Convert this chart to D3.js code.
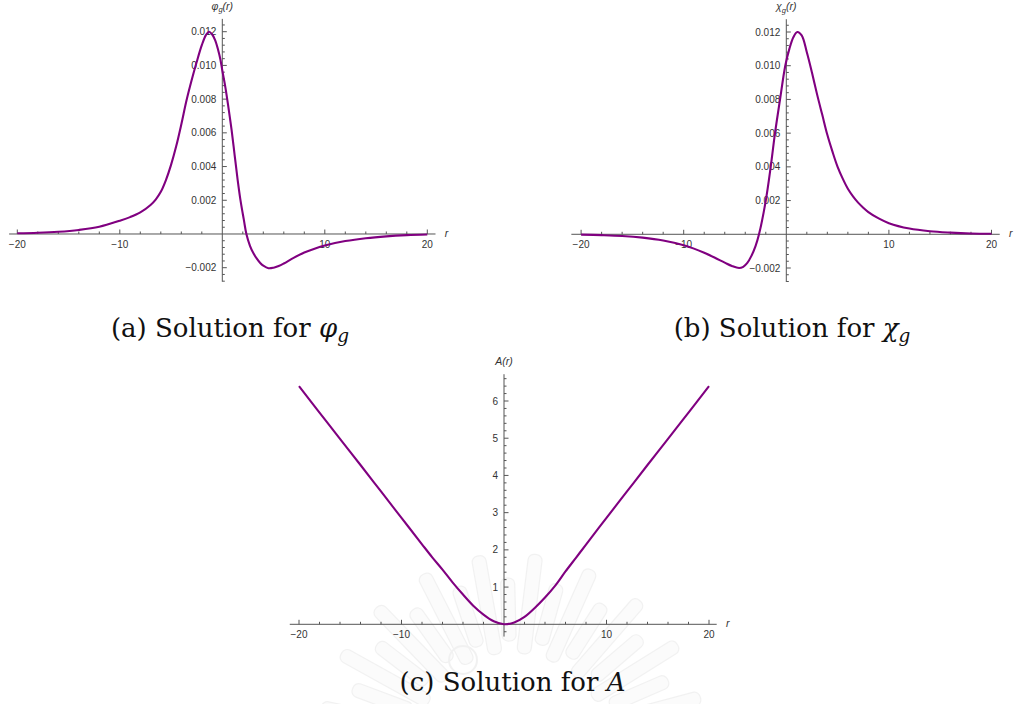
<!DOCTYPE html>
<html>
<head>
<meta charset="utf-8">
<script src="https://cdn.jsdelivr.net/npm/d3@7/dist/d3.min.js"></script>
<style>
  html, body { margin: 0; padding: 0; background: #fff; }
  svg { display: block; }
  .tick-label { font-family: "Liberation Sans", Arial, sans-serif; font-size: 10px; fill: #333; }
  .axis-title { font-family: "Liberation Sans", Arial, sans-serif; font-size: 10.5px; font-style: italic; fill: #333; }
</style>
</head>
<body>
<svg id="chart" width="1018" height="704"></svg>
<script>
// ---- φ_g(r) ----
const phiR = [-20, -18, -16, -14, -12, -10, -9, -8, -7, -6.5, -6, -5.5, -5, -4.5, -4, -3.5, -3, -2.5, -2, -1.6, -1.3, -1.0, -0.7, -0.4, -0.2, 0, 0.3, 0.6, 0.9, 1.2, 1.5, 1.8, 2.1, 2.35, 2.7, 3.0, 3.35, 3.7, 4.0, 4.5, 5.0, 5.5, 6.0, 7.0, 8.0, 9.0, 10, 12, 14, 16, 18, 20];
const phiV = [0.00004, 0.00007, 0.00013, 0.00024, 0.00043, 0.00079, 0.00100, 0.00128, 0.00172, 0.00204, 0.0025, 0.0032, 0.0041, 0.0052, 0.0065, 0.0079, 0.0091, 0.0102, 0.0112, 0.0118, 0.0120, 0.01185, 0.0115, 0.0109, 0.0104, 0.0097, 0.0087, 0.0075, 0.0062, 0.0047, 0.0032, 0.0019, 0.00085, 0.0, -0.0007, -0.0011, -0.00145, -0.00172, -0.00188, -0.00203, -0.00200, -0.00190, -0.00175, -0.00140, -0.00110, -0.00087, -0.00068, -0.00042, -0.00025, -0.00014, -0.00007, -0.00003];

// ---- χ_g(r) ----
const chiR = [-20, -18, -16, -14, -12, -10, -9, -8, -7, -6, -5.3, -4.6, -4.2, -3.8, -3.4, -3.0, -2.66, -2.0, -1.52, -1.1, -0.61, -0.1, 0.3, 0.7, 1.07, 1.5, 2.0, 2.5, 3.0, 3.5, 4.0, 4.5, 5.0, 5.5, 6.0, 6.5, 7.0, 7.5, 8.0, 9.0, 10, 12, 14, 16, 18, 20];
const chiV = [-0.00002, -0.00005, -0.0001, -0.0002, -0.00037, -0.00065, -0.00085, -0.0011, -0.00138, -0.00168, -0.00188, -0.00200, -0.00193, -0.0017, -0.00128, -0.0007, 0.0, 0.002, 0.004, 0.006, 0.008, 0.010, 0.0110, 0.0117, 0.0120, 0.0118, 0.0108, 0.0096, 0.0083, 0.0071, 0.0059, 0.0049, 0.0040, 0.0033, 0.0027, 0.00225, 0.00188, 0.00158, 0.00132, 0.00094, 0.00066, 0.00034, 0.00018, 0.0001, 0.00005, 0.00003];

// ---- A(r) ----
const aR = [-20, -18, -16, -14, -12, -10, -8, -7, -6, -5, -4, -3, -2, -1, 0, 1, 2, 3, 4, 5, 6, 7, 8, 10, 12, 14, 16, 18, 20];
const aV = [6.4, 5.69, 4.98, 4.28, 3.57, 2.86, 2.15, 1.8, 1.47, 1.12, 0.8, 0.5, 0.26, 0.08, 0.0, 0.05, 0.2, 0.44, 0.72, 1.04, 1.42, 1.78, 2.14, 2.86, 3.57, 4.28, 4.98, 5.69, 6.4];

// ---- tick definitions ----
const xMajorTicks = [-20, -10, 10, 20];
const xMinorStep = 2;
const psiMajorTicks = [-0.002, 0.002, 0.004, 0.006, 0.008, 0.010, 0.012];
const psiMinorStep = 0.0004;
const aMajorTicks = [1, 2, 3, 4, 5, 6];
const aMinorStep = 0.2;

const LINE_COLOR = "#800080";
const AXIS_COLOR = "#555";
const SERIF = '"DejaVu Serif", "Liberation Serif", serif';
const fmtMinus = s => s.replace("-", "\u2212");

const svg = d3.select("#chart");

// faint emblem behind the lower panel
(function drawEmblem() {
  const g = svg.append("g").attr("opacity", 0.3);
  const cx = 512, cy = 748;
  const angles = d3.range(192, 350, 8.5);
  angles.forEach((deg, i) => {
    const rIn = 95 + (i % 2) * 12;
    const rOut = 195 - (i % 2) * 25;
    g.append("rect")
      .attr("x", rIn).attr("y", -7)
      .attr("width", rOut - rIn).attr("height", 14)
      .attr("rx", 6)
      .attr("fill", "#f3f3f3")
      .attr("stroke", "#d4d4d4")
      .attr("stroke-width", 1.2)
      .attr("transform", `translate(${cx},${cy}) rotate(${deg})`);
  });
  g.append("circle").attr("cx", 463).attr("cy", 660).attr("r", 14)
    .attr("fill", "none").attr("stroke", "#d4d4d4").attr("stroke-width", 2);
})();

function panel(opts) {
  const { xRange, yDomain, yRange, xExtent, yExtent, rs, vs, yMajor, yMinorStep, yFmt, yTitle, yTitleSub } = opts;
  const x = d3.scaleLinear().domain([-20, 20]).range(xRange);
  const y = d3.scaleLinear().domain(yDomain).range(yRange);
  const g = svg.append("g");
  const x0 = x(0), y0 = y(0);

  // axis lines
  g.append("line")
    .attr("x1", x(xExtent[0])).attr("x2", x(xExtent[1]))
    .attr("y1", y0).attr("y2", y0)
    .attr("stroke", AXIS_COLOR).attr("stroke-width", 1);
  g.append("line")
    .attr("x1", x0).attr("x2", x0)
    .attr("y1", y(yExtent[0])).attr("y2", y(yExtent[1]))
    .attr("stroke", AXIS_COLOR).attr("stroke-width", 1);

  // x ticks (pointing up)
  const xTicks = d3.range(-20, 20.001, xMinorStep).filter(t => Math.abs(t) > 1e-9);
  g.selectAll(null).data(xTicks).join("line")
    .attr("x1", d => x(d)).attr("x2", d => x(d))
    .attr("y1", y0).attr("y2", d => y0 - (xMajorTicks.includes(d) ? 4.5 : 2.5))
    .attr("stroke", AXIS_COLOR).attr("stroke-width", 1);
  g.selectAll(null).data(xMajorTicks).join("text")
    .attr("class", "tick-label")
    .attr("x", d => x(d)).attr("y", y0 + 14)
    .attr("text-anchor", "middle")
    .text(d => fmtMinus(String(d)));

  // y ticks (pointing right)
  const lo = Math.ceil(yExtent[0] / yMinorStep - 1e-6), hi = Math.floor(yExtent[1] / yMinorStep + 1e-6);
  const yTicks = d3.range(lo, hi + 1).filter(k => k !== 0).map(k => k * yMinorStep);
  const isMajor = v => yMajor.some(m => Math.abs(m - v) < yMinorStep * 0.01);
  g.selectAll(null).data(yTicks).join("line")
    .attr("x1", x0).attr("x2", d => x0 + (isMajor(d) ? 4.5 : 2.5))
    .attr("y1", d => y(d)).attr("y2", d => y(d))
    .attr("stroke", AXIS_COLOR).attr("stroke-width", 1);
  g.selectAll(null).data(yMajor).join("text")
    .attr("class", "tick-label")
    .attr("x", x0 - 6).attr("y", d => y(d) + 3.6)
    .attr("text-anchor", "end")
    .text(d => fmtMinus(yFmt(d)));

  // axis titles
  const t = g.append("text").attr("class", "axis-title")
    .attr("x", x0).attr("y", y(yExtent[1]) - 9)
    .attr("text-anchor", "middle");
  t.append("tspan").text(yTitle);
  if (yTitleSub) t.append("tspan").attr("font-size", "7.5px").attr("dy", 2.5).text(yTitleSub);
  t.append("tspan").attr("dy", yTitleSub ? -2.5 : 0).text("(r)");
  g.append("text").attr("class", "axis-title")
    .attr("x", x(xExtent[1]) + 11).attr("y", y0 + 3)
    .attr("text-anchor", "middle")
    .text("r");

  // curve
  const pts = rs.map((r, i) => [r, vs[i]]);
  g.append("path")
    .datum(pts)
    .attr("fill", "none")
    .attr("stroke", LINE_COLOR)
    .attr("stroke-width", 2.1)
    .attr("stroke-linejoin", "round")
    .attr("d", d3.line().x(d => x(d[0])).y(d => y(d[1])).curve(d3.curveCatmullRom.alpha(0.5)));
}

panel({
  xRange: [17.3, 427.3], yDomain: [-0.002, 0.012], yRange: [267.7, 31.7],
  xExtent: [-20.8, 20.8], yExtent: [-0.00283, 0.01276],
  rs: phiR, vs: phiV, yMajor: psiMajorTicks, yMinorStep: psiMinorStep,
  yFmt: d3.format(".3f"), yTitle: "\u03C6", yTitleSub: "g"
});
panel({
  xRange: [581.1, 991.5], yDomain: [-0.002, 0.012], yRange: [268.0, 32.0],
  xExtent: [-20.95, 20.8], yExtent: [-0.00283, 0.01276],
  rs: chiR, vs: chiV, yMajor: psiMajorTicks, yMinorStep: psiMinorStep,
  yFmt: d3.format(".3f"), yTitle: "\u03C7", yTitleSub: "g"
});
panel({
  xRange: [299, 709], yDomain: [0, 6], yRange: [624.3, 401],
  xExtent: [-20.9, 20.75], yExtent: [-0.33, 6.72],
  rs: aR, vs: aV, yMajor: aMajorTicks, yMinorStep: aMinorStep,
  yFmt: d3.format("d"), yTitle: "A", yTitleSub: null
});

// captions
function caption(cx, baseline, tag, sym, sub) {
  const t = svg.append("text")
    .attr("font-family", SERIF).attr("font-size", 26).attr("font-weight", 300).attr("fill", "#111")
    .attr("x", cx).attr("y", baseline).attr("text-anchor", "middle");
  t.append("tspan").text(`(${tag}) Solution for `);
  t.append("tspan").attr("font-style", "italic").text(sym);
  if (sub) t.append("tspan").attr("font-style", "italic").attr("font-size", 18.5).attr("dy", 5).text(sub);
}
caption(230, 337, "a", "\u03C6", "g");
caption(792, 337, "b", "\u03C7", "g");
caption(512.5, 691, "c", "A", null);
</script>
</body>
</html>
